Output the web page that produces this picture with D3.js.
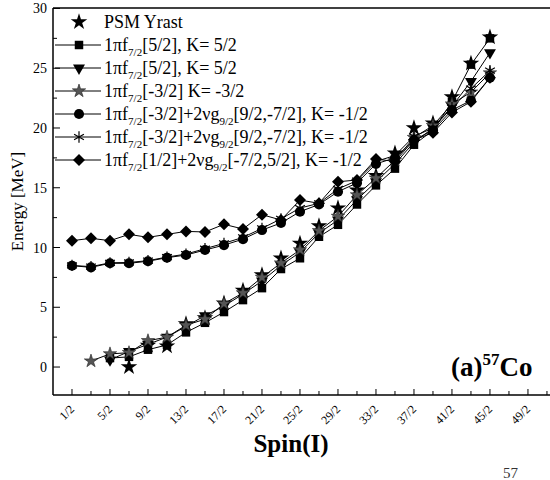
<!DOCTYPE html>
<html><head><meta charset="utf-8">
<script src="https://cdn.jsdelivr.net/npm/d3@7"></script>
<style>body{margin:0;background:#fff}svg{display:block}text{font-family:"Liberation Serif","Times New Roman",serif}</style>
</head><body><svg id="c" width="550" height="480"></svg>
<script>
const spins = [0.5,1.5,2.5,3.5,4.5,5.5,6.5,7.5,8.5,9.5,10.5,11.5,12.5,13.5,14.5,15.5,16.5,17.5,18.5,19.5,20.5,21.5,22.5];
const xTickLabels = ["1/2","5/2","9/2","13/2","17/2","21/2","25/2","29/2","33/2","37/2","41/2","45/2","49/2"];
const yTicks = [0,5,10,15,20,25,30];
// null = no state
const psm      = [null,null,null,0.0,1.8,1.75,3.6,4.1,5.35,6.4,7.7,9.1,10.35,11.8,13.3,14.8,16.0,17.9,20.0,20.4,22.6,25.4,27.6];
const sq52     = [null,null,0.75,0.85,1.45,1.85,2.9,3.7,4.6,5.6,6.6,8.2,9.1,10.9,11.9,13.6,15.2,16.6,18.6,19.8,22.2,25.3,27.5];
const tri52    = [null,null,0.6,1.3,1.9,2.5,3.4,4.3,5.1,6.1,7.2,8.5,9.6,11.2,12.3,14.0,15.5,17.0,18.8,20.0,21.8,23.9,26.3];
const star32   = [null,0.5,1.1,1.2,2.2,2.5,3.5,4.0,5.3,6.2,7.5,8.7,9.8,11.4,12.6,14.4,15.8,17.3,19.2,20.2,22.0,23.0,24.6];
const circ12   = [8.48,8.34,8.68,8.68,8.85,9.15,9.37,9.79,10.2,10.7,11.46,12.05,13.0,13.6,14.67,15.4,17.0,17.5,19.0,19.8,21.5,22.3,24.2];
const ast12    = [8.5,8.4,8.72,8.75,8.9,9.2,9.45,9.9,10.35,10.85,11.6,12.4,13.3,13.7,14.9,15.6,17.2,17.7,19.3,20.0,21.7,23.3,24.8];
const dia12    = [10.57,10.77,10.57,11.1,10.85,11.1,11.35,11.3,11.94,11.55,12.75,12.3,13.97,13.7,15.5,15.65,17.4,17.2,19.0,19.6,21.3,22.2,24.2];

const svg = d3.select("#c");
const L=53, R=550, T=8, B=395;
const x = d3.scaleLinear().domain([-0.5,25.66]).range([L,R]);
const y = d3.scaleLinear().domain([-2.34,30.04]).range([B,T]);

const triDown = {draw(ctx,size){const s=Math.sqrt(size*4/Math.sqrt(3));const h=s*Math.sqrt(3)/2;ctx.moveTo(-s/2,-h/3);ctx.lineTo(s/2,-h/3);ctx.lineTo(0,2*h/3);ctx.closePath();}};
const diamondSq = {draw(ctx,size){const r=Math.sqrt(size/2);ctx.moveTo(0,-r);ctx.lineTo(r,0);ctx.lineTo(0,r);ctx.lineTo(-r,0);ctx.closePath();}};

const series = [
  {name:"psm", vals:psm, sym:d3.symbolStar, size:85, fill:"#000", stroke:"none", line:false},
  {name:"sq", vals:sq52, sym:d3.symbolSquare, size:72, fill:"#000", stroke:"none", line:true},
  {name:"tri", vals:tri52, sym:triDown, size:62, fill:"#000", stroke:"none", line:true},
  {name:"gstar", vals:star32, sym:d3.symbolStar, size:55, fill:"#555", stroke:"#222", line:true},
  {name:"circ", vals:circ12, sym:d3.symbolCircle, size:80, fill:"#000", stroke:"none", line:true},
  {name:"ast", vals:ast12, sym:d3.symbolAsterisk, size:90, fill:"none", stroke:"#000", line:true},
  {name:"dia", vals:dia12, sym:diamondSq, size:72, fill:"#000", stroke:"none", line:true}
];

// axes frame
svg.append("line").attr("x1",L).attr("x2",L).attr("y1",T).attr("y2",B).attr("stroke","#000").attr("stroke-width",1.5);
svg.append("line").attr("x1",L).attr("x2",R).attr("y1",B).attr("y2",B).attr("stroke","#000").attr("stroke-width",1.5);
svg.append("line").attr("x1",L).attr("x2",R).attr("y1",T).attr("y2",T).attr("stroke","#000").attr("stroke-width",1.5);

// y ticks
const yMinor = d3.range(-2.5+5,30,5);
svg.append("g").selectAll("line.ym").data(yTicks).join("line")
  .attr("x1",L).attr("x2",L+7).attr("y1",d=>y(d)).attr("y2",d=>y(d)).attr("stroke","#000");
svg.append("g").selectAll("line.yn").data(yMinor).join("line")
  .attr("x1",L).attr("x2",L+4).attr("y1",d=>y(d)).attr("y2",d=>y(d)).attr("stroke","#000");
svg.append("g").selectAll("text").data(yTicks).join("text")
  .attr("x",L-6).attr("y",d=>y(d)+5).attr("text-anchor","end").attr("font-size",14).text(d=>d);

// x ticks
const xAll = d3.range(0.5,26,1);
svg.append("g").selectAll("line").data(xAll).join("line")
  .attr("x1",d=>x(d)).attr("x2",d=>x(d)).attr("y1",B).attr("y2",d=>((d-0.5)%2===0)?B-6:B-4).attr("stroke","#000");
svg.append("g").selectAll("text").data(xTickLabels).join("text")
  .attr("transform",(d,i)=>`translate(${x(0.5+2*i)+3},${B+15}) rotate(-45)`)
  .attr("text-anchor","end").attr("font-size",12).text(d=>d);

// titles
svg.append("text").attr("transform",`translate(23,${(T+B)/2}) rotate(-90)`).attr("text-anchor","middle")
  .attr("font-size",17).text("Energy [MeV]");
svg.append("text").attr("x",291).attr("y",452).attr("text-anchor","middle").attr("font-size",25).attr("font-weight","bold").text("Spin(I)");

// panel label
const pl = svg.append("text").attr("x",451).attr("y",376).attr("font-size",27).attr("font-weight","bold");
pl.append("tspan").text("(a)");
pl.append("tspan").attr("font-size",17).attr("dy",-11).text("57");
pl.append("tspan").attr("dy",11).text("Co");
svg.append("text").attr("x",503).attr("y",478).attr("font-size",15).attr("fill","#333").text("57");

// data
const g = svg.append("g");
series.forEach(s=>{
  const pts = spins.map((sp,i)=>({sp,v:s.vals[i]})).filter(p=>p.v!==null);
  if(s.line){
    g.append("path").datum(pts).attr("fill","none").attr("stroke","#000").attr("stroke-width",1)
      .attr("d",d3.line().x(p=>x(p.sp)).y(p=>y(p.v)));
  }
});
series.forEach(s=>{
  const pts = spins.map((sp,i)=>({sp,v:s.vals[i]})).filter(p=>p.v!==null);
  g.append("g").selectAll("path").data(pts).join("path")
    .attr("transform",p=>`translate(${x(p.sp)},${y(p.v)})`)
    .attr("d",d3.symbol(s.sym,s.size)())
    .attr("fill",s.fill).attr("stroke",s.stroke).attr("stroke-width",s.name==="ast"?1.2:0.6);
});

// legend
const legRows = [
  {s:0, parts:[["PSM Yrast"]]},
  {s:1, parts:[["1πf"],["7/2","sub"],["[5/2], K= 5/2"]]},
  {s:2, parts:[["1πf"],["7/2","sub"],["[5/2], K= 5/2"]]},
  {s:3, parts:[["1πf"],["7/2","sub"],["[-3/2] K= -3/2"]]},
  {s:4, parts:[["1πf"],["7/2","sub"],["[-3/2]+2νg"],["9/2","sub"],["[9/2,-7/2], K= -1/2"]]},
  {s:5, parts:[["1πf"],["7/2","sub"],["[-3/2]+2νg"],["9/2","sub"],["[9/2,-7/2], K= -1/2"]]},
  {s:6, parts:[["1πf"],["7/2","sub"],["[1/2]+2νg"],["9/2","sub"],["[-7/2,5/2], K= -1/2"]]}
];
const lg = svg.append("g");
legRows.forEach((r,i)=>{
  const yy = 22 + i*23;
  const s = series[r.s];
  if(s.line) lg.append("line").attr("x1",55).attr("x2",101).attr("y1",yy).attr("y2",yy).attr("stroke","#000").attr("stroke-width",1);
  lg.append("path").attr("transform",`translate(79,${yy})`).attr("d",d3.symbol(s.sym,s.size)())
    .attr("fill",s.fill).attr("stroke",s.stroke).attr("stroke-width",s.name==="ast"?1.2:0.6);
  const t = lg.append("text").attr("x",104).attr("y",yy+6).attr("font-size",18);
  let sub=false;
  r.parts.forEach(p=>{
    const ts = t.append("tspan").text(p[0]);
    if(p[1]==="sub"){ts.attr("font-size",11).attr("dy",5);sub=true;}
    else if(sub){ts.attr("dy",-5);sub=false;}
  });
});
</script></body></html>
